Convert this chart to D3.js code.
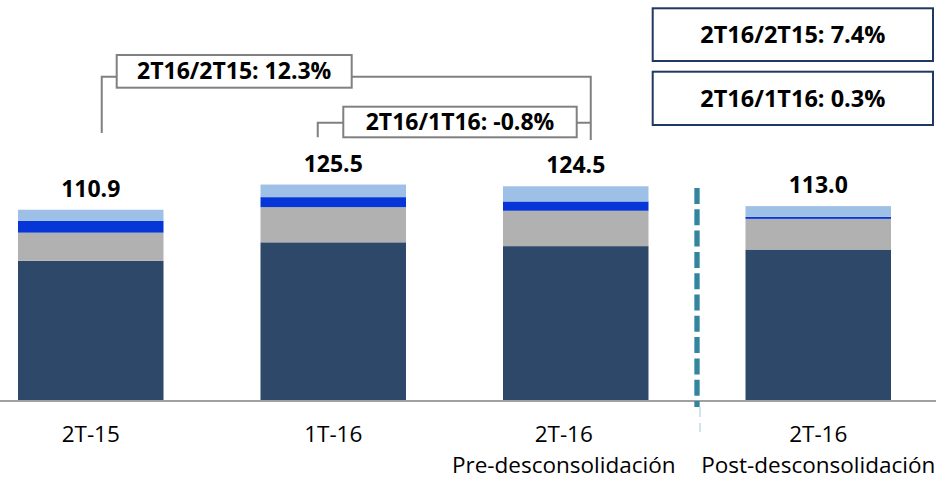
<!DOCTYPE html>
<html>
<head>
<meta charset="utf-8">
<script src="https://cdn.jsdelivr.net/npm/d3@7"></script>
<style>
  body { margin: 0; background: #fff; }
  svg { display: block; font-family: "Open Sans", sans-serif; }
</style>
</head>
<body>
<div id="chart"></div>
<script>
// categories and labels
var categories = ["2T-15", "1T-16", "2T-16 pre", "2T-16 post"];
var catLine1 = ["2T-15", "1T-16", "2T-16", "2T-16"];
var catLine2 = ["", "", "Pre-desconsolidación", "Post-desconsolidación"];

// stacked series, bottom to top
var seriesA = [81.3, 92.0, 89.8, 87.8];   // dark navy
var seriesB = [16.3, 20.4, 20.5, 17.8];   // gray
var seriesC = [6.8, 5.8, 5.4, 1.2];       // blue
var seriesD = [6.5, 7.3, 8.8, 6.2];       // light blue
var totals = [110.9, 125.5, 124.5, 113.0];

var growthLeft = ["2T16/2T15: 12.3%", "2T16/1T16: -0.8%"];
var growthRight = ["2T16/2T15: 7.4%", "2T16/1T16: 0.3%"];

var colors = ["#2d4869", "#b1b1b1", "#0636d8", "#9fc0e6"];

var width = 936, height = 479;
var baseY = 401;

var svg = d3.select("#chart").append("svg")
  .attr("width", width)
  .attr("height", height);

var x = d3.scaleBand()
  .domain(categories)
  .range([-30.5, 939.5])
  .paddingInner(0.4)
  .paddingOuter(0.2);

var y = d3.scaleLinear()
  .domain([0, 232.5])
  .range([baseY, 0]);

var table = categories.map(function(c, i) {
  return { cat: c, a: seriesA[i], b: seriesB[i], c: seriesC[i], d: seriesD[i] };
});
var stack = d3.stack().keys(["a", "b", "c", "d"])(table);

svg.append("g")
  .selectAll("g")
  .data(stack)
  .enter()
  .append("g")
  .attr("fill", function(d, i) { return colors[i]; })
  .selectAll("rect")
  .data(function(d) { return d; })
  .enter()
  .append("rect")
  .attr("x", function(d) { return x(d.data.cat); })
  .attr("width", x.bandwidth())
  .attr("y", function(d) { return y(d[1]); })
  .attr("height", function(d) { return y(d[0]) - y(d[1]); });

// axis line
svg.append("line")
  .attr("x1", 0).attr("x2", width)
  .attr("y1", baseY).attr("y2", baseY)
  .attr("stroke", "#a0a0a0")
  .attr("stroke-width", 2);

// totals above bars
svg.selectAll(".total")
  .data(totals)
  .enter()
  .append("text")
  .attr("class", "total")
  .attr("x", function(d, i) { return x(categories[i]) + x.bandwidth() / 2; })
  .attr("y", function(d) { return y(d) - 13; })
  .attr("text-anchor", "middle")
  .attr("font-size", "23px")
  .attr("font-weight", "bold")
  .attr("fill", "#000")
  .text(function(d) { return d.toFixed(1); });

// category labels (pre label sits a bit left of its bar, as in the slide)
var cat = svg.selectAll(".cat")
  .data(categories)
  .enter()
  .append("text")
  .attr("class", "cat")
  .attr("text-anchor", "middle")
  .attr("font-size", "22.5px")
  .attr("fill", "#000");
cat.append("tspan")
  .attr("x", function(d, i) { return x(d) + x.bandwidth() / 2 + (i === 2 ? -12 : 0); })
  .attr("y", 442)
  .text(function(d, i) { return catLine1[i]; });
cat.append("tspan")
  .attr("x", function(d, i) { return x(d) + x.bandwidth() / 2 + (i === 2 ? -12 : 0); })
  .attr("y", 473)
  .text(function(d, i) { return catLine2[i]; });

// dashed separator between pre and post
var sepX = (x(categories[2]) + x.bandwidth() + x(categories[3])) / 2;
svg.append("line")
  .attr("x1", sepX).attr("x2", sepX)
  .attr("y1", 188).attr("y2", 407)
  .attr("stroke", "#31859c")
  .attr("stroke-width", 5.3)
  .attr("stroke-dasharray", "16,5.3");
svg.append("line")
  .attr("x1", sepX + 3).attr("x2", sepX + 3)
  .attr("y1", 407).attr("y2", 432)
  .attr("stroke", "#9ccbd8")
  .attr("stroke-width", 1)
  .attr("stroke-dasharray", "10,6");

// growth brackets
var cx = function(i) { return x(categories[i]) + x.bandwidth() / 2; };
var bracket = svg.append("g")
  .attr("fill", "none")
  .attr("stroke", "#808080")
  .attr("stroke-width", 2);

var b1L = cx(0) + 11, b1R = cx(2) + 15, b2L = cx(1) - 15.5;
bracket.append("path")
  .attr("d", "M" + b1L + ",133V76.7H" + b1R + "V140");
bracket.append("path")
  .attr("d", "M" + b2L + ",137.3V122.7H" + b1R);

var leftBoxes = [
  { x0: 116.7, x1: 351.7, y0: 55, y1: 87.7 },
  { x0: 343.3, x1: 576.7, y0: 106.7, y1: 137.3 }
];
leftBoxes.forEach(function(b, i) {
  svg.append("rect")
    .attr("x", b.x0).attr("y", b.y0)
    .attr("width", b.x1 - b.x0).attr("height", b.y1 - b.y0)
    .attr("fill", "#fff")
    .attr("stroke", "#808080")
    .attr("stroke-width", 2);
  svg.append("text")
    .attr("x", (b.x0 + b.x1) / 2)
    .attr("y", (b.y0 + b.y1) / 2 + 8)
    .attr("text-anchor", "middle")
    .attr("font-size", "23px")
    .attr("font-weight", "bold")
    .text(growthLeft[i]);
});

// boxes on the right for post-desconsolidation
var rightBoxes = [
  { x0: 652.7, x1: 933, y0: 8.3, y1: 61 },
  { x0: 652.7, x1: 933, y0: 71.7, y1: 125 }
];
rightBoxes.forEach(function(b, i) {
  svg.append("rect")
    .attr("x", b.x0).attr("y", b.y0)
    .attr("width", b.x1 - b.x0).attr("height", b.y1 - b.y0)
    .attr("fill", "#fff")
    .attr("stroke", "#1f3864")
    .attr("stroke-width", 2);
  svg.append("text")
    .attr("x", (b.x0 + b.x1) / 2)
    .attr("y", (b.y0 + b.y1) / 2 + 8.5)
    .attr("text-anchor", "middle")
    .attr("font-size", "23.5px")
    .attr("font-weight", "bold")
    .text(growthRight[i]);
});
</script>
</body>
</html>
